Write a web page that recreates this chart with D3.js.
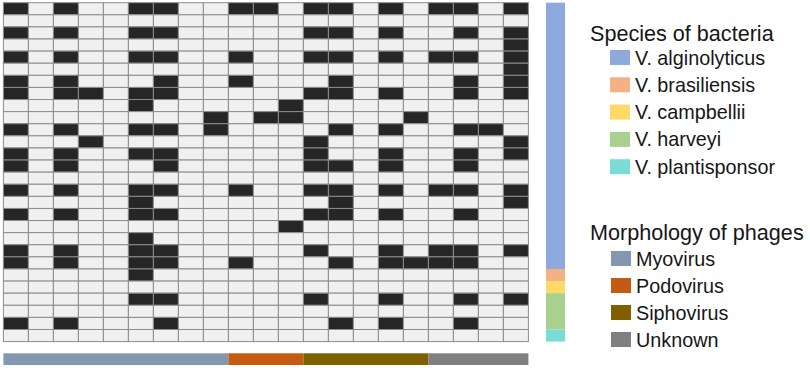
<!DOCTYPE html>
<html>
<head>
<meta charset="utf-8">
<script src="https://cdn.jsdelivr.net/npm/d3@7"></script>
<style>
html,body{margin:0;padding:0;background:#fff;}
svg{display:block;}
text{font-family:"Liberation Sans",Arial,Helvetica,sans-serif;fill:#161616;}
</style>
</head>
<body>
<svg id="chart" width="810" height="368"></svg>
<script>
// ---- data ----
const phages = d3.range(21).map(i => "P" + (i + 1));
const strains = d3.range(28).map(i => "S" + (i + 1));
// dark (positive) cells: for each strain row, the indices of phage columns
const hits = [
  [0,2,5,6,9,10,12,13,15,17,18,20],
  [],
  [0,2,5,6,12,13,15,18,20],
  [20],
  [0,2,5,6,9,12,13,15,17,18,20],
  [20],
  [0,2,6,9,13,18,20],
  [0,2,3,5,6,12,13,15,18,20],
  [5,11],
  [8,10,11,16],
  [0,2,5,6,8,13,15,18,19],
  [3,12,20],
  [0,2,5,6,12,15,18,20],
  [0,2,6,12,13,15,18],
  [],
  [0,2,5,6,9,12,13,15,17,18,20],
  [5,13,20],
  [0,2,5,6,12,13,15,18],
  [11],
  [5],
  [0,2,5,6,12,15,17,18,20],
  [0,2,5,6,9,13,15,16,17,18],
  [5],
  [],
  [5,6,12,15,18,20],
  [],
  [0,2,6,13,15,18],
  []
];
const speciesNames = ["V. alginolyticus","V. brasiliensis","V. campbellii","V. harveyi","V. plantisponsor"];
const speciesColors = ["#8EA9DB","#F4B183","#FFD966","#A9D18E","#7ADCD4"];
const strainSpecies = [0,0,0,0,0,0,0,0,0,0,0,0,0,0,0,0,0,0,0,0,0,0,1,2,3,3,3,4];
const morphNames = ["Myovirus","Podovirus","Siphovirus","Unknown"];
const morphColors = ["#8497B0","#C55A11","#7F6000","#808080"];
const phageMorph = [0,0,0,0,0,0,0,0,0,1,1,1,2,2,2,2,2,3,3,3,3];

// ---- layout ----
const svg = d3.select("#chart");
const x = d3.scaleBand().domain(phages).range([3.4, 528.4]).padding(0);
const y = d3.scaleBand().domain(strains).range([2.7, 341.6]).padding(0);

const cells = [];
strains.forEach((s, i) => phages.forEach((p, j) => {
  cells.push({s, p, v: hits[i].includes(j) ? 1 : 0});
}));
const fill = d3.scaleOrdinal().domain([0,1]).range(["#F0F0F0","#262626"]);

svg.append("g").selectAll("rect").data(cells).join("rect")
  .attr("x", d => x(d.p)).attr("y", d => y(d.s))
  .attr("width", x.bandwidth()).attr("height", y.bandwidth())
  .attr("fill", d => fill(d.v))
  .attr("stroke", "#8C8C8C").attr("stroke-width", 1);

// group contiguous runs so annotation bars have no seams
function runs(keys, groups) {
  const out = [];
  groups.forEach((g, i) => {
    const last = out[out.length - 1];
    if (last && last.g === g) last.end = keys[i];
    else out.push({g, start: keys[i], end: keys[i]});
  });
  return out;
}

// species annotation bar (rows)
const spColor = d3.scaleOrdinal().domain(speciesNames).range(speciesColors);
svg.append("g").selectAll("rect").data(runs(strains, strainSpecies)).join("rect")
  .attr("x", 546).attr("width", 19)
  .attr("y", d => y(d.start)).attr("height", d => y(d.end) + y.bandwidth() - y(d.start))
  .attr("fill", d => spColor(speciesNames[d.g]));

// morphology annotation bar (columns)
const mColor = d3.scaleOrdinal().domain(morphNames).range(morphColors);
svg.append("g").selectAll("rect").data(runs(phages, phageMorph)).join("rect")
  .attr("y", 353.3).attr("height", 11.7)
  .attr("x", d => x(d.start)).attr("width", d => x(d.end) + x.bandwidth() - x(d.start))
  .attr("fill", d => mColor(morphNames[d.g]));

// legends
function legend(title, names, color, tx, ty, y0, step, sqx) {
  const g = svg.append("g");
  g.append("text").attr("x", tx).attr("y", ty).attr("font-size", 21.6).text(title);
  names.forEach((n, i) => {
    const cy = y0 + i * step;
    g.append("rect").attr("x", sqx).attr("y", cy - 7.5).attr("width", 20).attr("height", 15).attr("fill", color(n));
    g.append("text").attr("x", sqx + 25).attr("y", cy + 7).attr("font-size", 19.8).text(n);
  });
}
legend("Species of bacteria", speciesNames, spColor, 590, 41, 57.5, 27.3, 610);
legend("Morphology of phages", morphNames, mColor, 590, 240, 258.5, 27, 611);
</script>
</body>
</html>
